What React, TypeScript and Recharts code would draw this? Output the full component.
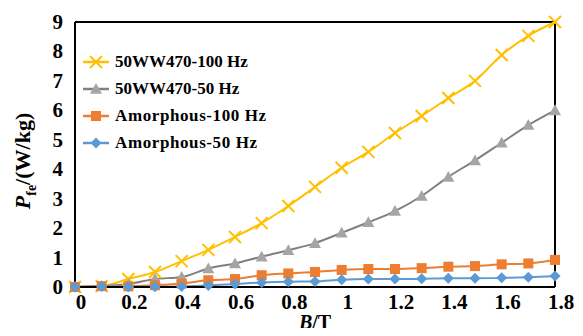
import React from "react";
import {
  LineChart, Line, XAxis, YAxis, ReferenceLine,
} from "recharts";

// B in tesla
const bValues = [0, 0.1, 0.2, 0.3, 0.4, 0.5, 0.6, 0.7, 0.8, 0.9, 1.0, 1.1, 1.2, 1.3, 1.4, 1.5, 1.6, 1.7, 1.8];

// iron loss, W/kg
const ww470_100 = [0, 0.03, 0.27, 0.51, 0.88, 1.26, 1.7, 2.17, 2.75, 3.4, 4.05, 4.59, 5.23, 5.81, 6.42, 7.0, 7.88, 8.53, 9.0];
const ww470_50 = [0, 0.03, 0.1, 0.27, 0.34, 0.63, 0.8, 1.03, 1.25, 1.49, 1.84, 2.2, 2.58, 3.09, 3.74, 4.3, 4.9, 5.5, 6.0];
const amorph_100 = [0, 0.03, 0.02, 0.06, 0.12, 0.23, 0.27, 0.4, 0.46, 0.51, 0.58, 0.61, 0.61, 0.64, 0.69, 0.71, 0.77, 0.8, 0.92];
const amorph_50 = [0, 0.02, 0.01, 0.01, 0.02, 0.05, 0.1, 0.15, 0.18, 0.19, 0.25, 0.27, 0.27, 0.28, 0.3, 0.3, 0.31, 0.33, 0.37];

const xTicks = [0, 0.2, 0.4, 0.6, 0.8, 1, 1.2, 1.4, 1.6, 1.8];
const yTicks = [0, 1, 2, 3, 4, 5, 6, 7, 8, 9];

const SERIES = [
  { key: "a", name: "50WW470-100 Hz", color: "#FFC000", marker: "#FFC000", shape: "cross" },
  { key: "b", name: "50WW470-50 Hz", color: "#808080", marker: "#A5A5A5", shape: "triangle" },
  { key: "c", name: "Amorphous-100 Hz", color: "#ED7D31", marker: "#ED7D31", shape: "square" },
  { key: "d", name: "Amorphous-50 Hz", color: "#5B9BD5", marker: "#5B9BD5", shape: "diamond" },
];

const data = bValues.map((b, i) => ({
  b,
  a: ww470_100[i],
  bb: ww470_50[i],
  c: amorph_100[i],
  d: amorph_50[i],
}));

const keyMap: Record<string, string> = { a: "a", b: "bb", c: "c", d: "d" };

const FONT = "'Liberation Serif', 'Times New Roman', serif";

function Marker({ cx, cy, shape, color }: { cx: number; cy: number; shape: string; color: string }) {
  if (cx == null || cy == null) return null;
  if (shape === "cross") {
    const s = 6;
    return (
      <g stroke={color} strokeWidth={2}>
        <line x1={cx - s} y1={cy - s} x2={cx + s} y2={cy + s} />
        <line x1={cx - s} y1={cy + s} x2={cx + s} y2={cy - s} />
      </g>
    );
  }
  if (shape === "triangle") {
    const s = 6;
    return <polygon points={`${cx},${cy - s} ${cx + s},${cy + s * 0.8} ${cx - s},${cy + s * 0.8}`} fill={color} />;
  }
  if (shape === "square") {
    const s = 5;
    return <rect x={cx - s} y={cy - s} width={s * 2} height={s * 2} fill={color} />;
  }
  const s = 5.5;
  return <polygon points={`${cx},${cy - s} ${cx + s},${cy} ${cx},${cy + s} ${cx - s},${cy}`} fill={color} />;
}

function LegendBox() {
  return (
    <div style={{ position: "absolute", left: 82, top: 48, fontFamily: FONT, fontWeight: 700, fontSize: 17 }}>
      {SERIES.map((s) => (
        <div key={s.key} style={{ display: "flex", alignItems: "center", height: 27 }}>
          <svg width={28} height={16} style={{ marginRight: 5 }}>
            <line x1={1} y1={8} x2={27} y2={8} stroke={s.color} strokeWidth={2.5} />
            <Marker cx={14} cy={8} shape={s.shape} color={s.marker} />
          </svg>
          <span style={{ color: "#000", letterSpacing: s.key === "c" || s.key === "d" ? 0.6 : 0 }}>{s.name}</span>
        </div>
      ))}
    </div>
  );
}

const XTick = ({ x, y, payload }: any) => (
  <text x={x + 6} y={y + 14} textAnchor="middle" fontFamily={FONT} fontWeight={700} fontSize={21} fill="#000">
    {payload.value}
  </text>
);

const YTick = ({ x, y, payload }: any) => (
  <text x={x} y={y + 7} textAnchor="end" fontFamily={FONT} fontWeight={700} fontSize={21} fill="#000">
    {payload.value}
  </text>
);

const YLabel = () => (
  <text
    transform="translate(30,161) rotate(-90)"
    textAnchor="middle"
    fontFamily={FONT}
    fontWeight={700}
    fontSize={22}
    fill="#000"
  >
    <tspan fontStyle="italic">P</tspan>
    <tspan fontSize={14} dy={6}>fe</tspan>
    <tspan dy={-6}>/(W/kg)</tspan>
  </text>
);

export default function App() {
  return (
    <div style={{ margin: -8, width: 583, height: 336, background: "#fff", position: "relative", overflow: "hidden" }}>
      <LineChart width={583} height={336} data={data} margin={{ top: 22, right: 28, left: 35, bottom: 19 }}>
        <XAxis
          dataKey="b"
          type="number"
          domain={[0, 1.8]}
          ticks={xTicks}
          tick={<XTick />}
          tickLine={false}
          axisLine={{ stroke: "#000", strokeWidth: 2 }}
          height={30}
        />
        <YAxis
          type="number"
          domain={[0, 9]}
          ticks={yTicks}
          tick={<YTick />}
          tickLine={false}
          axisLine={{ stroke: "#000", strokeWidth: 2 }}
          width={40}
          tickMargin={6}
          label={<YLabel />}
        />
        <ReferenceLine y={9} stroke="#000" strokeWidth={2} />
        <ReferenceLine x={1.8} stroke="#000" strokeWidth={2} />
        {SERIES.map((s) => (
          <Line
            key={s.key}
            dataKey={keyMap[s.key]}
            name={s.name}
            type="monotone"
            stroke={s.color}
            strokeWidth={2}
            dot={(p: any) => <Marker key={p.index} cx={p.cx} cy={p.cy} shape={s.shape} color={s.marker} />}
            activeDot={false}
            isAnimationActive={false}
          />
        ))}
      </LineChart>
      <LegendBox />
      <div
        style={{
          position: "absolute", left: 265, width: 100, top: 314, textAlign: "center",
          fontFamily: FONT, fontWeight: 700, fontSize: 20, lineHeight: "16px", color: "#000",
        }}
      >
        <i>B</i>/T
      </div>
    </div>
  );
}
